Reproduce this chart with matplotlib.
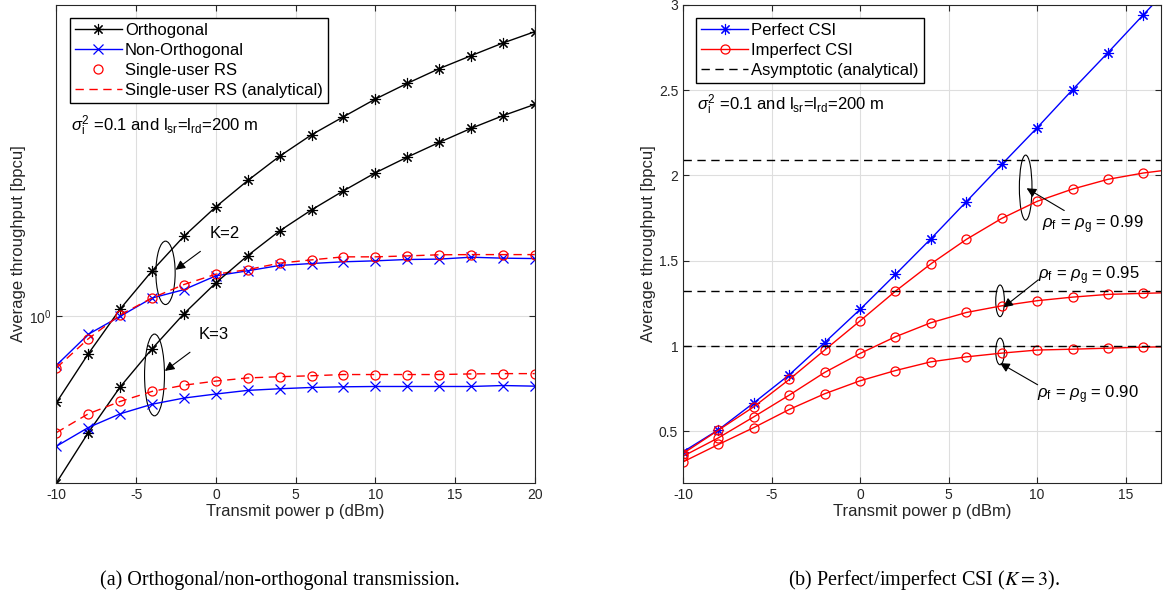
import matplotlib
matplotlib.use("Agg")
import matplotlib.pyplot as plt
from matplotlib.patches import Ellipse

plt.rcParams['font.family'] = ['Liberation Sans', 'DejaVu Sans']
plt.rcParams['mathtext.fontset'] = 'custom'
plt.rcParams['mathtext.rm'] = 'Liberation Sans'
plt.rcParams['mathtext.it'] = 'Liberation Sans:italic'
plt.rcParams['axes.unicode_minus'] = False

# ---- data: (a) orthogonal / non-orthogonal, log y ----
p_a = [-10, -8, -6, -4, -2, 0, 2, 4, 6, 8, 10, 12, 14, 16, 18, 20]
orth_k2 = [0.698, 0.855, 1.030, 1.207, 1.394, 1.575, 1.757, 1.944, 2.125, 2.290,
           2.465, 2.631, 2.797, 2.952, 3.112, 3.262]
orth_k3 = [0.500, 0.616, 0.745, 0.873, 1.010, 1.148, 1.286, 1.425, 1.555, 1.683,
           1.814, 1.936, 2.058, 2.182, 2.300, 2.411]
nonorth_k2 = [0.815, 0.927, 0.999, 1.078, 1.116, 1.182, 1.207, 1.234, 1.244, 1.253,
              1.258, 1.265, 1.267, 1.277, 1.272, 1.270]
nonorth_k3 = [0.582, 0.629, 0.666, 0.693, 0.711, 0.723, 0.734, 0.739, 0.743, 0.745,
              0.746, 0.746, 0.746, 0.746, 0.749, 0.747]
rs_k2 = [0.806, 0.910, 1.005, 1.078, 1.140, 1.190, 1.213, 1.246, 1.263, 1.279,
         1.279, 1.284, 1.290, 1.291, 1.291, 1.291]
rs_k3 = [0.616, 0.666, 0.701, 0.731, 0.750, 0.763, 0.773, 0.777, 0.780, 0.784,
         0.784, 0.784, 0.784, 0.786, 0.787, 0.787]
rs_k2_ana = [0.806, 0.910, 1.005, 1.078, 1.140, 1.190, 1.213, 1.246, 1.263, 1.279,
             1.279, 1.284, 1.290, 1.291, 1.291, 1.291]
rs_k3_ana = [0.616, 0.666, 0.701, 0.731, 0.750, 0.763, 0.773, 0.777, 0.780, 0.784,
             0.784, 0.784, 0.784, 0.786, 0.787, 0.787]

# ---- data: (b) perfect / imperfect CSI ----
p_b = [-10, -8, -6, -4, -2, 0, 2, 4, 6, 8, 10, 12, 14, 16, 18]
perfect = [0.381, 0.510, 0.668, 0.832, 1.021, 1.215, 1.420, 1.629, 1.846, 2.064,
           2.279, 2.502, 2.719, 2.941, 3.160]
imp_099 = [0.371, 0.508, 0.645, 0.805, 0.977, 1.148, 1.322, 1.482, 1.625, 1.748,
           1.848, 1.920, 1.977, 2.014, 2.040]
imp_095 = [0.355, 0.463, 0.586, 0.713, 0.846, 0.957, 1.055, 1.137, 1.197, 1.236,
           1.266, 1.287, 1.303, 1.309, 1.315]
imp_090 = [0.322, 0.424, 0.523, 0.629, 0.721, 0.797, 0.857, 0.908, 0.937, 0.959,
           0.977, 0.982, 0.988, 0.994, 0.997]
asym = [2.088, 1.322, 1.0]
rho_labels = ['0.99', '0.95', '0.90']

star = (8, 2, 0)
fs = 12
tick_fs = 10
dash = (0, (6, 4))
mk = dict(ms=6.5, mew=0.9)
st = dict(ms=8, mew=0.8)

fig = plt.figure(figsize=(11.67, 6.0), dpi=100)
ax1 = fig.add_axes([0.0484, 0.1955, 0.4098, 0.7967])
ax2 = fig.add_axes([0.5853, 0.1955, 0.4096, 0.7967])

# (a)
ax1.plot(p_a, orth_k2, color='k', lw=1, marker=star, label='Orthogonal', **st)
ax1.plot(p_a, nonorth_k2, color='b', lw=1, marker='x', label='Non-Orthogonal', **mk)
ax1.plot(p_a, rs_k2, ls='none', color='r', marker='o', mfc='none',
         label='Single-user RS', **mk)
ax1.plot(p_a, rs_k2_ana, color='r', lw=1, ls=dash, label='Single-user RS (analytical)')
ax1.plot(p_a, orth_k3, color='k', lw=1, marker=star, **st)
ax1.plot(p_a, nonorth_k3, color='b', lw=1, marker='x', **mk)
ax1.plot(p_a, rs_k3, ls='none', color='r', marker='o', mfc='none', **mk)
ax1.plot(p_a, rs_k3_ana, color='r', lw=1, ls=dash)
ax1.set_yscale('log')
ax1.set_xlim(-10, 20)
ax1.set_ylim(0.5, 3.65)
ax1.set_xticks(range(-10, 21, 5))
ax1.set_yticks([1])
ax1.yaxis.set_minor_locator(plt.NullLocator())
ax1.set_yticklabels([r'$10^0$'])

ax1.text(0.03, 0.746, r'$\sigma_{\rm i}^{\rm 2}$ =0.1 and l$_{\rm sr}$=l$_{\rm rd}$=200 m',
         transform=ax1.transAxes, fontsize=fs, va='center')
ax1.add_patch(Ellipse((0.228, 0.439), 0.0403, 0.1326, transform=ax1.transAxes,
                      fill=False, lw=0.8, color='k'))
ax1.add_patch(Ellipse((0.205, 0.2254), 0.0417, 0.171, transform=ax1.transAxes,
                      fill=False, lw=0.8, color='k'))
ax1.annotate('K=2', xy=(0.249, 0.4455), xytext=(0.351, 0.521), xycoords='axes fraction',
             textcoords='axes fraction', fontsize=fs, ha='center', va='center',
             arrowprops=dict(arrowstyle='-|>', color='k', lw=0.8, shrinkA=9, shrinkB=0,
                             mutation_scale=14))
ax1.annotate('K=3', xy=(0.2267, 0.2338), xytext=(0.329, 0.310), xycoords='axes fraction',
             textcoords='axes fraction', fontsize=fs, ha='center', va='center',
             arrowprops=dict(arrowstyle='-|>', color='k', lw=0.8, shrinkA=9, shrinkB=0,
                             mutation_scale=14))
ax1.legend(loc='upper left', bbox_to_anchor=(0.028, 0.972), fontsize=fs, handlelength=2.8,
           fancybox=False, edgecolor='k', framealpha=1, borderaxespad=0,
           labelspacing=0.3, handletextpad=0.2, borderpad=0.3)

# (b)
ax2.plot(p_b, perfect, color='b', lw=1, marker=star, label='Perfect CSI', **st)
ax2.plot(p_b, imp_099, color='r', lw=1, marker='o', mfc='none', label='Imperfect CSI', **mk)
ax2.plot(p_b, imp_095, color='r', lw=1, marker='o', mfc='none', **mk)
ax2.plot(p_b, imp_090, color='r', lw=1, marker='o', mfc='none', **mk)
for i, a in enumerate(asym):
    ax2.axhline(a, color='k', lw=1, ls=dash,
                label='Asymptotic (analytical)' if i == 0 else None)
ax2.set_xlim(-10, 17)
ax2.set_ylim(0.2, 3)
ax2.set_xticks(range(-10, 16, 5))
ax2.set_yticks([0.5, 1, 1.5, 2, 2.5, 3])
ax2.set_yticklabels(['0.5', '1', '1.5', '2', '2.5', '3'])

ax2.text(0.03, 0.79, r'$\sigma_{\rm i}^{\rm 2}$ =0.1 and l$_{\rm sr}$=l$_{\rm rd}$=200 m',
         transform=ax2.transAxes, fontsize=fs, va='center')
ells = [(0.7168, 0.6174, 0.0264, 0.1359), (0.6632, 0.3805, 0.0181, 0.0662),
        (0.6632, 0.2746, 0.0181, 0.0557)]
for e in ells:
    ax2.add_patch(Ellipse(e[:2], e[2], e[3], transform=ax2.transAxes,
                          fill=False, lw=0.8, color='k'))
arrows = [((0.7188, 0.616), (0.7975, 0.5693)), ((0.6701, 0.3666), (0.7432, 0.4244)),
          ((0.6632, 0.2502), (0.7418, 0.2049))]
for tip, tail in arrows:
    ax2.annotate('', xy=tip, xytext=tail, xycoords='axes fraction',
                 textcoords='axes fraction',
                 arrowprops=dict(arrowstyle='-|>', color='k', lw=0.8, shrinkA=0, shrinkB=0,
                                 mutation_scale=14))
label_pos = [(0.750, 0.539), (0.743, 0.433), (0.7404, 0.184)]
for (x, y), r in zip(label_pos, rho_labels):
    ax2.text(x, y, r'$\rho_{\rm f}$ = $\rho_{\rm g}$ = ' + r, transform=ax2.transAxes,
             fontsize=fs, va='center', ha='left')
ax2.legend(loc='upper left', bbox_to_anchor=(0.028, 0.972), fontsize=fs, handlelength=2.8,
           fancybox=False, edgecolor='k', framealpha=1, borderaxespad=0,
           labelspacing=0.3, handletextpad=0.2, borderpad=0.3)

for ax in (ax1, ax2):
    ax.grid(True, which='major', color='#dedede', lw=0.8)
    ax.set_axisbelow(True)
    ax.tick_params(labelsize=tick_fs, direction='in', length=4, colors='#262626',
                   top=True, right=True)
    for s in ax.spines.values():
        s.set_color('#262626')
        s.set_linewidth(0.8)
    ax.set_xlabel('Transmit power p (dBm)', fontsize=fs, color='#262626', labelpad=2)
    ax.set_ylabel('Average throughput [bpcu]', fontsize=fs, color='#262626', labelpad=2)

fig.text(0.24, 0.033, '(a) Orthogonal/non-orthogonal transmission.',
         family='Liberation Serif', fontsize=14.5, ha='center', va='center')
fig.text(0.792, 0.033, r'(b) Perfect/imperfect CSI ($K=3$).',
         family='Liberation Serif', fontsize=14.5, ha='center', va='center',
         math_fontfamily='stix')

fig.savefig('out.png', dpi=100)
